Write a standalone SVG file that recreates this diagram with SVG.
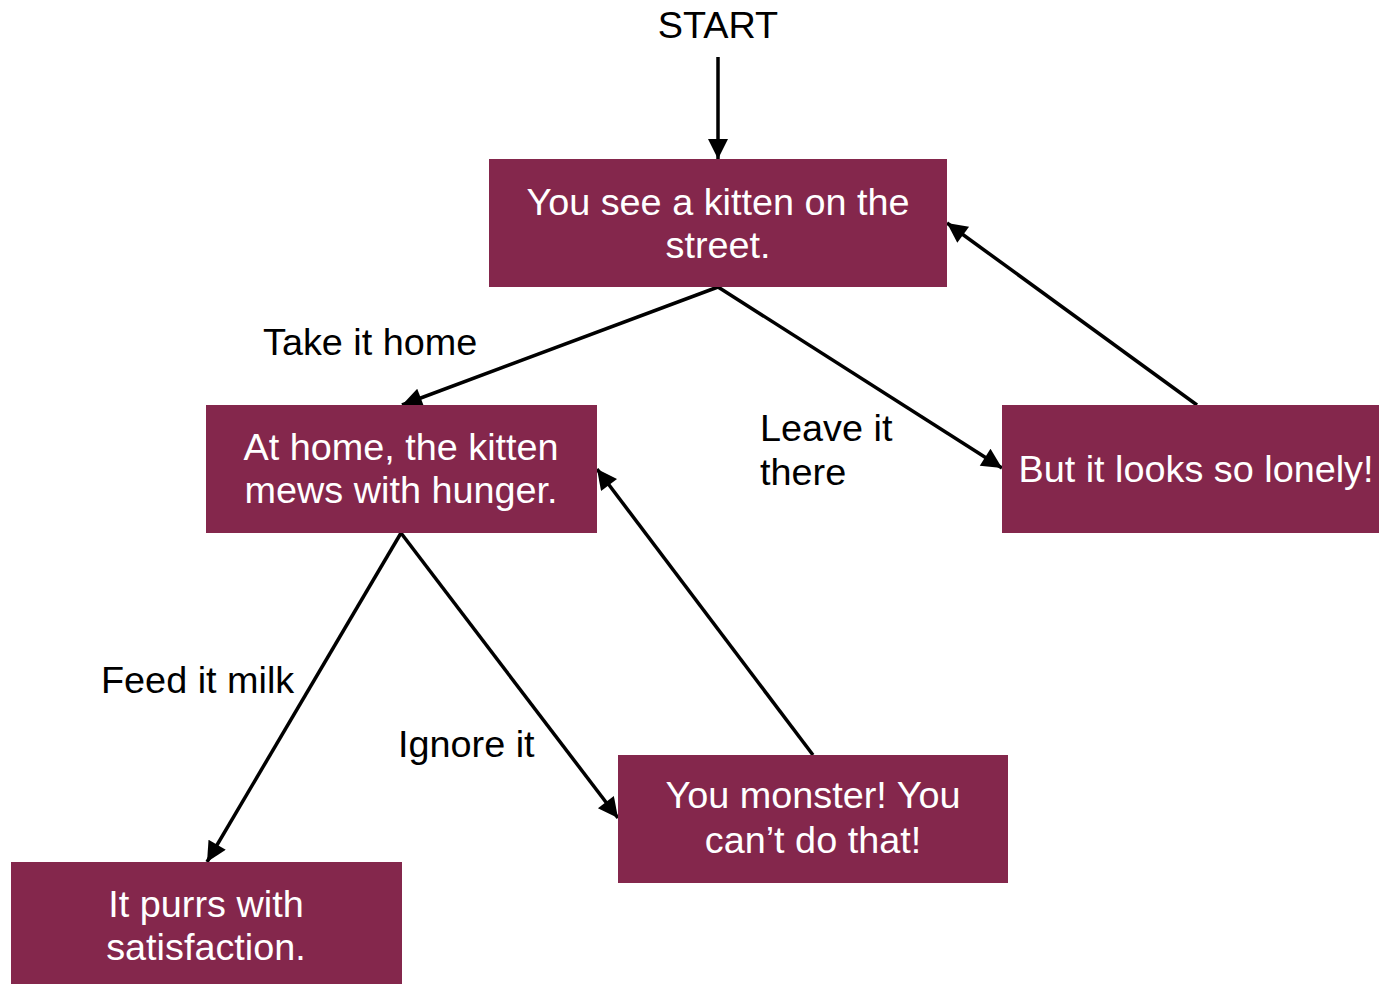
<svg xmlns="http://www.w3.org/2000/svg" width="1379" height="984" viewBox="0 0 1379 984">
<style>
.box{fill:#84274C;}
.nt{font-family:"Liberation Sans",Arial,sans-serif;font-size:37.8px;fill:#ffffff;text-anchor:middle;}
.lb{font-family:"Liberation Sans",Arial,sans-serif;font-size:37.8px;fill:#000000;}
.edge{stroke:#000;stroke-width:3.5;fill:none;marker-end:url(#ah);}
</style>
<defs>
<marker id="ah" viewBox="0 0 10 10" refX="10" refY="5" markerUnits="userSpaceOnUse" markerWidth="24" markerHeight="20" orient="auto">
<path d="M0,0 L10,5 L0,10 z" fill="#000"/>
</marker>
</defs>
<rect width="1379" height="984" fill="#ffffff"/>
<g id="connectors">
<line class="edge" x1="718" y1="57" x2="718" y2="159"/>
<line class="edge" x1="718" y1="287" x2="402" y2="405"/>
<line class="edge" x1="718" y1="287" x2="1002" y2="468"/>
<line class="edge" x1="1197" y1="405" x2="947" y2="223"/>
<line class="edge" x1="401" y1="533" x2="207" y2="862"/>
<line class="edge" x1="401" y1="533" x2="618" y2="818"/>
<line class="edge" x1="813" y1="755" x2="597" y2="469"/>
</g>
<g id="labels">
<text class="lb" x="718" y="38" text-anchor="middle">START</text>
<text class="lb" x="263" y="355">Take it home</text>
<text class="lb" x="760" y="441">Leave it</text>
<text class="lb" x="760" y="485">there</text>
<text class="lb" x="101" y="693">Feed it milk</text>
<text class="lb" x="398" y="757">Ignore it</text>
</g>
<g id="node-street">
<rect class="box" x="489" y="159" width="458" height="128"/>
<text class="nt" x="718" y="215">You see a kitten on the</text>
<text class="nt" x="718" y="258">street.</text>
</g>
<g id="node-lonely">
<rect class="box" x="1002" y="405" width="377" height="128"/>
<text class="nt" x="1196" y="482">But it looks so lonely!</text>
</g>
<g id="node-home">
<rect class="box" x="206" y="405" width="391" height="128"/>
<text class="nt" x="401" y="460">At home, the kitten</text>
<text class="nt" x="401" y="503">mews with hunger.</text>
</g>
<g id="node-purrs">
<rect class="box" x="11" y="862" width="391" height="122"/>
<text class="nt" x="206" y="917">It purrs with</text>
<text class="nt" x="206" y="960">satisfaction.</text>
</g>
<g id="node-monster">
<rect class="box" x="618" y="755" width="390" height="128"/>
<text class="nt" x="813" y="808">You monster! You</text>
<text class="nt" x="813" y="853">can’t do that!</text>
</g>
</svg>
